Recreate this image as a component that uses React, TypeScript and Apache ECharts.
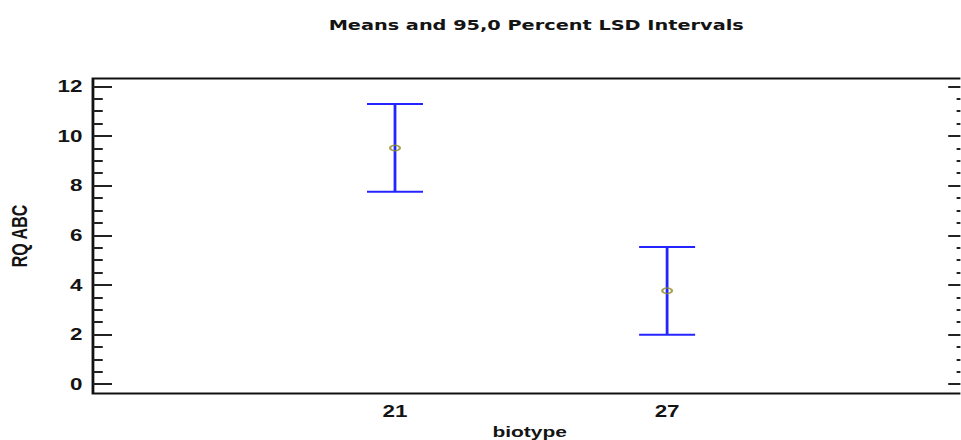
import React, { useEffect, useRef } from "react";
import * as echarts from "echarts";

// Group labels along the x axis and their positions on the value scale
const categories = ["21", "27"];
const categoryPos = [1, 2];

// Group means and the LSD interval bounds (95% level)
const means = [9.52, 3.76];
const lower = [7.75, 1.99];
const upper = [11.29, 5.53];

// Y-axis tick values
const majorTicks = [0, 2, 4, 6, 8, 10, 12];
const minorTicks = [0.5, 1, 1.5, 2.5, 3, 3.5, 4.5, 5, 5.5, 6.5, 7, 7.5, 8.5, 9, 9.5, 10.5, 11, 11.5];

// The whole plot is drawn at a narrower width and stretched horizontally
const STRETCH = 1.4;
const PAGE_W = 961;
const PAGE_H = 440;

const Y_MIN = -0.38;
const Y_MAX = 12.32;

const labelFont = "'Liberation Sans', Arial, sans-serif";

export default function App() {
  const ref = useRef<HTMLDivElement>(null);

  useEffect(() => {
    if (!ref.current) return;
    const chart = echarts.init(ref.current, undefined, { renderer: "svg" });

    const intervalData = categoryPos.map((x, i) => [x, lower[i], upper[i], means[i]]);
    const meanData = categoryPos.map((x, i) => [x, means[i]]);

    const tickStyle = { color: "#222", width: 2 };
    const hiddenLine = { show: false, onZero: false };

    const option: echarts.EChartsOption = {
      animation: false,
      backgroundColor: "#ffffff",
      title: {
        text: "Means and 95,0 Percent LSD Intervals",
        left: 378,
        textAlign: "center",
        top: 13,
        textStyle: {
          fontFamily: "'DejaVu Sans', sans-serif",
          fontWeight: "bold",
          fontSize: 13.8,
          color: "#141414",
        },
      },
      grid: {
        left: 66.4,
        right: -4.3,
        top: 78.5,
        bottom: 46.5,
        outerBoundsMode: "none",
        containLabel: false,
        show: true,
        borderColor: "#111",
        borderWidth: 2,
        backgroundColor: "transparent",
      } as any,
      xAxis: {
        type: "value",
        min: -0.11,
        max: 3.1,
        name: "biotype",
        nameLocation: "middle",
        nameGap: 29,
        nameTextStyle: {
          fontFamily: labelFont,
          fontWeight: "bold",
          fontSize: 15,
          color: "#141414",
        },
        axisLine: hiddenLine,
        axisTick: { show: false },
        splitLine: { show: false },
        axisLabel: {
          customValues: categoryPos,
          formatter: (v: number) => categories[categoryPos.indexOf(v)] ?? "",
          fontFamily: labelFont,
          fontWeight: "bold",
          fontSize: 16,
          color: "#141414",
          margin: 10,
        },
      },
      yAxis: [
        {
          type: "value",
          position: "left",
          min: Y_MIN,
          max: Y_MAX,
          name: "RQ ABC",
          nameLocation: "middle",
          nameGap: 45,
          nameRotate: 90,
          nameTextStyle: {
            fontFamily: labelFont,
            fontWeight: "bold",
            fontSize: 16,
            color: "#141414",
          },
          axisLine: hiddenLine,
          splitLine: { show: false },
          axisTick: {
            show: true,
            inside: true,
            length: 13.6,
            customValues: majorTicks,
            lineStyle: tickStyle,
          },
          axisLabel: {
            customValues: majorTicks,
            fontFamily: labelFont,
            fontWeight: "bold",
            fontSize: 16,
            color: "#141414",
            margin: 7.5,
          },
        },
        {
          type: "value",
          position: "left",
          min: Y_MIN,
          max: Y_MAX,
          axisLine: hiddenLine,
          splitLine: { show: false },
          axisLabel: { show: false },
          axisTick: {
            show: true,
            inside: true,
            length: 7,
            customValues: minorTicks,
            lineStyle: tickStyle,
          },
        },
        {
          type: "value",
          position: "right",
          min: Y_MIN,
          max: Y_MAX,
          axisLine: hiddenLine,
          splitLine: { show: false },
          axisLabel: { show: false },
          axisTick: {
            show: true,
            inside: true,
            length: 13,
            customValues: majorTicks,
            lineStyle: tickStyle,
          },
        },
        {
          type: "value",
          position: "right",
          min: Y_MIN,
          max: Y_MAX,
          axisLine: hiddenLine,
          splitLine: { show: false },
          axisLabel: { show: false },
          axisTick: {
            show: true,
            inside: true,
            length: 7,
            customValues: minorTicks,
            lineStyle: tickStyle,
          },
        },
      ],
      series: [
        {
          type: "custom",
          name: "LSD interval",
          xAxisIndex: 0,
          yAxisIndex: 0,
          data: intervalData,
          renderItem: (params: any, api: any) => {
            const x = api.value(0);
            const lo = api.coord([x, api.value(1)]);
            const hi = api.coord([x, api.value(2)]);
            const half = 20;
            const style = { stroke: "#2424ff", lineWidth: 2, fill: "none" };
            return {
              type: "group",
              children: [
                { type: "line", shape: { x1: hi[0], y1: hi[1], x2: lo[0], y2: lo[1] }, style },
                { type: "line", shape: { x1: hi[0] - half, y1: hi[1], x2: hi[0] + half, y2: hi[1] }, style },
                { type: "line", shape: { x1: lo[0] - half, y1: lo[1], x2: lo[0] + half, y2: lo[1] }, style },
              ],
            };
          },
          z: 2,
        },
        {
          type: "scatter",
          name: "Mean",
          xAxisIndex: 0,
          yAxisIndex: 0,
          data: meanData,
          symbol: "circle",
          symbolSize: [7, 5.5],
          itemStyle: { color: "rgba(255,255,255,0)", borderColor: "#8f8c22", borderWidth: 1.5 },
          z: 3,
        },
      ],
    };

    chart.setOption(option);
    return () => chart.dispose();
  }, []);

  return (
    <div
      ref={ref}
      style={{
        position: "absolute",
        left: 0,
        top: 0,
        width: PAGE_W / STRETCH,
        height: PAGE_H,
        transform: `scaleX(${STRETCH})`,
        transformOrigin: "0 0",
      }}
    />
  );
}
